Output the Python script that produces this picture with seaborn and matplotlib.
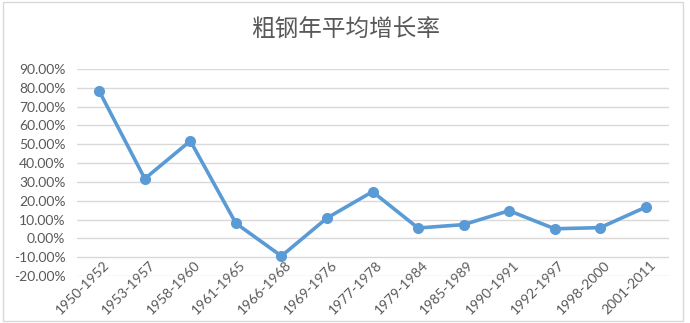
import matplotlib
matplotlib.use("Agg")
import matplotlib.pyplot as plt
import matplotlib.ticker as mtick
import matplotlib.transforms as mtrans
from matplotlib.patches import Rectangle
import seaborn as sns
import pandas as pd

periods = ["1950-1952", "1953-1957", "1958-1960", "1961-1965", "1966-1968",
           "1969-1976", "1977-1978", "1979-1984", "1985-1989", "1990-1991",
           "1992-1997", "1998-2000", "2001-2011"]
growth = [0.782, 0.317, 0.518, 0.080, -0.094, 0.108, 0.248, 0.055, 0.073,
          0.147, 0.051, 0.057, 0.166]
title = "粗钢年平均增长率"
yticks = [-0.2, -0.1, 0.0, 0.1, 0.2, 0.3, 0.4, 0.5, 0.6, 0.7, 0.8, 0.9]

sns.set_theme(style="white")
plt.rcParams["font.family"] = ["Lato", "DejaVu Sans"]

df = pd.DataFrame({"period": periods, "growth": growth})

W, H = 690, 323
fig = plt.figure(figsize=(W / 100, H / 100), dpi=100)
ax = fig.add_axes([76.5 / W, 1 - 276 / H, (668.5 - 76.5) / W, (276 - 69) / H])

line_color = "#5B9BD5"
sns.lineplot(data=df, x="period", y="growth", ax=ax, sort=False,
             color=line_color, linewidth=2.6, marker="o", markersize=8,
             markeredgewidth=0, zorder=3)

ax.set_xlim(-0.5, len(periods) - 0.5)
ax.set_ylim(-0.2, 0.9)
ax.set_yticks(yticks)
ax.yaxis.set_major_formatter(mtick.FuncFormatter(lambda v, p: f"{v*100:.2f}%"))
ax.grid(axis="y", color="#D9D9D9", linewidth=1.0)
ax.grid(axis="x", visible=False)
for s in ax.spines.values():
    s.set_visible(False)
ax.set_xlabel("")
ax.set_ylabel("")
ax.tick_params(axis="both", length=0, colors="#595959", labelsize=10)
ax.tick_params(axis="y", pad=8)
ax.tick_params(axis="x", pad=0)
offset = mtrans.ScaledTranslation(8 / 100, 13 / 100, fig.dpi_scale_trans)
for lab in ax.get_xticklabels():
    lab.set_rotation(45)
    lab.set_ha("right")
    lab.set_va("center")
    lab.set_rotation_mode("anchor")
    lab.set_transform(lab.get_transform() + offset)

fig.text(346 / W, 1 - 30 / H, title, ha="center", va="center", fontsize=17,
         color="#595959", family=["Noto Sans CJK SC", "DejaVu Sans"], fontweight="light")

fig.patches.append(Rectangle((3 / W, 1 - 321 / H), 680 / W, 319 / H,
                             transform=fig.transFigure, fill=False,
                             edgecolor="#D9D9D9", linewidth=1.0))

fig.savefig("out.png", dpi=100)
